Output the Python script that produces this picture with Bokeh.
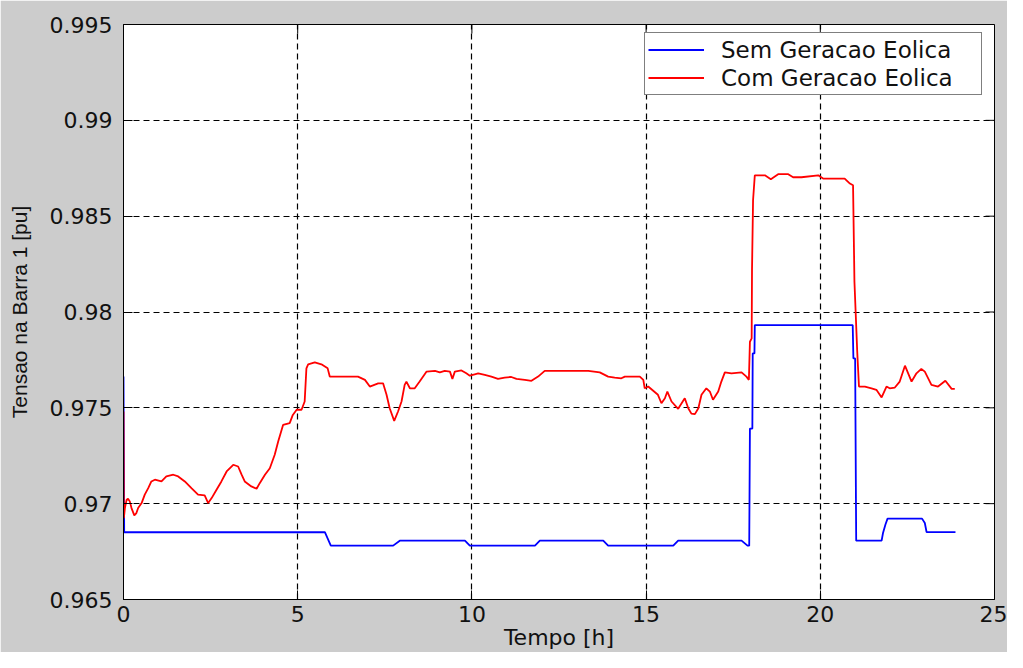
import math
from bokeh.plotting import figure
from bokeh.models import Range1d, FixedTicker, Legend, LegendItem, ColumnDataSource
from bokeh.embed import file_html
from bokeh.resources import INLINE

# ---- data ----
series_names = ["Sem Geracao Eolica", "Com Geracao Eolica"]

x_ticks = [0, 5, 10, 15, 20, 25]
x_tick_labels = ["0", "5", "10", "15", "20", "25"]
y_ticks = [0.965, 0.97, 0.975, 0.98, 0.985, 0.99, 0.995]
y_tick_labels = ["0.965", "0.97", "0.975", "0.98", "0.985", "0.99", "0.995"]

sem_t = [0.0, 0.02, 5.78, 5.95, 7.74, 7.93, 9.80, 9.94, 11.81, 11.95, 13.77, 13.91,
         15.78, 15.92, 17.74, 17.91, 17.96, 17.98, 18.05, 18.06, 18.11, 18.12,
         20.93, 20.95, 21.00, 21.03, 21.76, 21.80, 21.87, 21.93, 22.92, 23.00, 23.05, 23.88]
sem_v = [0.97663, 0.96851, 0.96851, 0.96781, 0.96781, 0.96807, 0.96807, 0.96781, 0.96781, 0.96807,
         0.96807, 0.96781, 0.96781, 0.96807, 0.96807, 0.96781, 0.96781, 0.97392, 0.97392, 0.97784,
         0.97784, 0.97932, 0.97932, 0.97758, 0.97758, 0.96807, 0.96807, 0.96847, 0.96891, 0.96922,
         0.96922, 0.96899, 0.96852, 0.96852]

com_t = [0.0, 0.01, 0.04, 0.09, 0.13, 0.18, 0.23, 0.31, 0.37, 0.42, 0.52, 0.61, 0.71, 0.80, 0.90,
         1.09, 1.23, 1.43, 1.57, 1.76, 1.95, 2.14, 2.33, 2.43, 2.53, 2.67, 2.81, 2.96, 3.15, 3.29,
         3.39, 3.48, 3.67, 3.82, 3.91, 4.06, 4.20, 4.34, 4.44, 4.58, 4.77, 4.86, 4.97, 5.11, 5.20,
         5.25, 5.30, 5.49, 5.68, 5.86, 5.92, 6.16, 6.73, 6.93, 7.07, 7.31, 7.45, 7.55, 7.64, 7.77,
         7.88, 7.98, 8.07, 8.12, 8.22, 8.36, 8.50, 8.60, 8.70, 8.94, 9.08, 9.22, 9.37, 9.44, 9.51,
         9.70, 9.84, 9.94, 10.08, 10.18, 10.37, 10.56, 10.75, 10.94, 11.13, 11.28, 11.52, 11.71, 11.90,
         12.09, 13.34, 13.67, 13.91, 14.10, 14.29, 14.39, 14.82, 14.92, 14.96, 15.06, 15.34, 15.44,
         15.54, 15.61, 15.73, 15.92, 16.11, 16.21, 16.30, 16.40, 16.50, 16.59, 16.73, 16.83, 16.92,
         17.07, 17.16, 17.26, 17.45, 17.74, 17.88, 17.95, 17.98, 18.03, 18.04, 18.07, 18.12, 18.41,
         18.58, 18.79, 19.08, 19.22, 19.46, 19.94, 20.08, 20.70, 20.85, 20.94, 20.98, 21.06, 21.11,
         21.28, 21.47, 21.61, 21.76, 21.90, 21.99, 22.14, 22.28, 22.43, 22.62, 22.76, 22.90, 23.00,
         23.19, 23.38, 23.59, 23.77, 23.86]
com_v = [0.97481, 0.96925, 0.96977, 0.97021, 0.97026, 0.97012, 0.96977, 0.96939, 0.96951, 0.96977,
         0.97003, 0.97047, 0.97081, 0.97116, 0.97125, 0.97116, 0.97142, 0.97151, 0.97142, 0.97116,
         0.97081, 0.97047, 0.97043, 0.97003, 0.97029, 0.97073, 0.97116, 0.97168, 0.97203, 0.97194,
         0.97151, 0.97116, 0.97090, 0.97078, 0.97107, 0.97151, 0.97185, 0.97255, 0.97324, 0.97411,
         0.97420, 0.97463, 0.97490, 0.97490, 0.97533, 0.97706, 0.97727, 0.97737, 0.97727, 0.97706,
         0.97663, 0.97663, 0.97663, 0.97646, 0.97611, 0.97628, 0.97628, 0.97568, 0.97498, 0.97432,
         0.97481, 0.97533, 0.97620, 0.97637, 0.97602, 0.97602, 0.97637, 0.97663, 0.97689, 0.97693,
         0.97685, 0.97693, 0.97689, 0.97651, 0.97689, 0.97695, 0.97680, 0.97668, 0.97675, 0.97680,
         0.97672, 0.97663, 0.97651, 0.97658, 0.97661, 0.97651, 0.97646, 0.97641, 0.97663, 0.97693,
         0.97693, 0.97685, 0.97663, 0.97658, 0.97654, 0.97663, 0.97663, 0.97646, 0.97602, 0.97611,
         0.97568, 0.97524, 0.97550, 0.97585, 0.97533, 0.97495, 0.97550, 0.97498, 0.97470, 0.97467,
         0.97498, 0.97568, 0.97602, 0.97585, 0.97542, 0.97585, 0.97637, 0.97685, 0.97680, 0.97685,
         0.97663, 0.97646, 0.97845, 0.97862, 0.98219, 0.98583, 0.98713, 0.98713, 0.98693, 0.98719,
         0.98719, 0.98703, 0.98703, 0.98713, 0.98696, 0.98696, 0.98670, 0.98661, 0.98158, 0.97793,
         0.97611, 0.97611, 0.97602, 0.97594, 0.97554, 0.97611, 0.97602, 0.97606, 0.97637, 0.97720,
         0.97637, 0.97680, 0.97703, 0.97689, 0.97620, 0.97611, 0.97641, 0.97599, 0.97599]

x_label = "Tempo [h]"
y_label = "Tensao na Barra 1 [pu]"

X0, X1 = 0, 25
Y0, Y1 = 0.965, 0.995

# ---- figure ----
TICK_FONT = "DejaVu Sans"
p = figure(width=1007, height=652, output_backend="svg", toolbar_location=None,
           x_range=Range1d(X0, X1), y_range=Range1d(Y0, Y1),
           min_border_left=123, min_border_right=13, min_border_top=24, min_border_bottom=52,
           background_fill_color="white", border_fill_color="#cccccc",
           x_axis_label=x_label, y_axis_label=y_label)
p.outline_line_color = "black"
p.outline_line_width = 1

for ax, ticks, labels in ((p.xaxis[0], x_ticks, x_tick_labels), (p.yaxis[0], y_ticks, y_tick_labels)):
    ax.ticker = FixedTicker(ticks=ticks)
    ax.major_label_overrides = {t: l for t, l in zip(ticks, labels)}
    ax.major_label_text_font = TICK_FONT
    ax.major_label_text_font_size = "22px"
    ax.major_label_text_color = "#111111"
    ax.axis_line_color = "black"
    ax.major_tick_line_color = "black"
    ax.major_tick_in = 9
    ax.major_tick_out = 0
    ax.minor_tick_line_color = None
    ax.axis_label_text_font_style = "normal"
    ax.axis_label_text_color = "#111111"

p.xaxis[0].major_label_standoff = 6
p.xaxis[0].axis_label_text_font = TICK_FONT
p.xaxis[0].axis_label_text_font_size = "22px"
p.xaxis[0].axis_label_standoff = 0
p.yaxis[0].major_label_standoff = 11
p.yaxis[0].axis_label_text_font = "Liberation Sans"
p.yaxis[0].axis_label_text_font_size = "21px"
p.yaxis[0].axis_label_standoff = 16

# mirrored inward ticks on top and right edges (MATLAB box style)
p.ray(x=x_ticks, y=[Y1] * len(x_ticks), length=9, length_units="screen",
      angle=-math.pi / 2, line_color="black", line_width=1)
p.ray(x=[X1] * len(y_ticks), y=y_ticks, length=9, length_units="screen",
      angle=math.pi, line_color="black", line_width=1)

p.xgrid.ticker = FixedTicker(ticks=x_ticks)
p.ygrid.ticker = FixedTicker(ticks=y_ticks)
for g in (p.xgrid, p.ygrid):
    g.grid_line_color = "black"
    g.grid_line_dash = "6 4"
    g.grid_line_width = 1.2
    g.grid_line_alpha = 1.0

src_sem = ColumnDataSource(dict(t=sem_t, v=sem_v))
src_com = ColumnDataSource(dict(t=com_t, v=com_v))
r_sem = p.line("t", "v", source=src_sem, line_color="#0000ff", line_width=1.8)
r_com = p.line("t", "v", source=src_com, line_color="#ff0000", line_width=1.8)

legend = Legend(items=[LegendItem(label=series_names[0], renderers=[r_sem]),
                       LegendItem(label=series_names[1], renderers=[r_com])],
                location=(521, 504), margin=0, padding=3, spacing=1,
                glyph_width=56, glyph_height=27, label_height=27, label_width=257,
                label_standoff=17, label_text_font=TICK_FONT, label_text_font_size="23px",
                label_text_color="#111111", border_line_color="black", border_line_width=1,
                background_fill_color="white", background_fill_alpha=1.0)
p.add_layout(legend)

open("out.html", "w").write(file_html(p, INLINE))
